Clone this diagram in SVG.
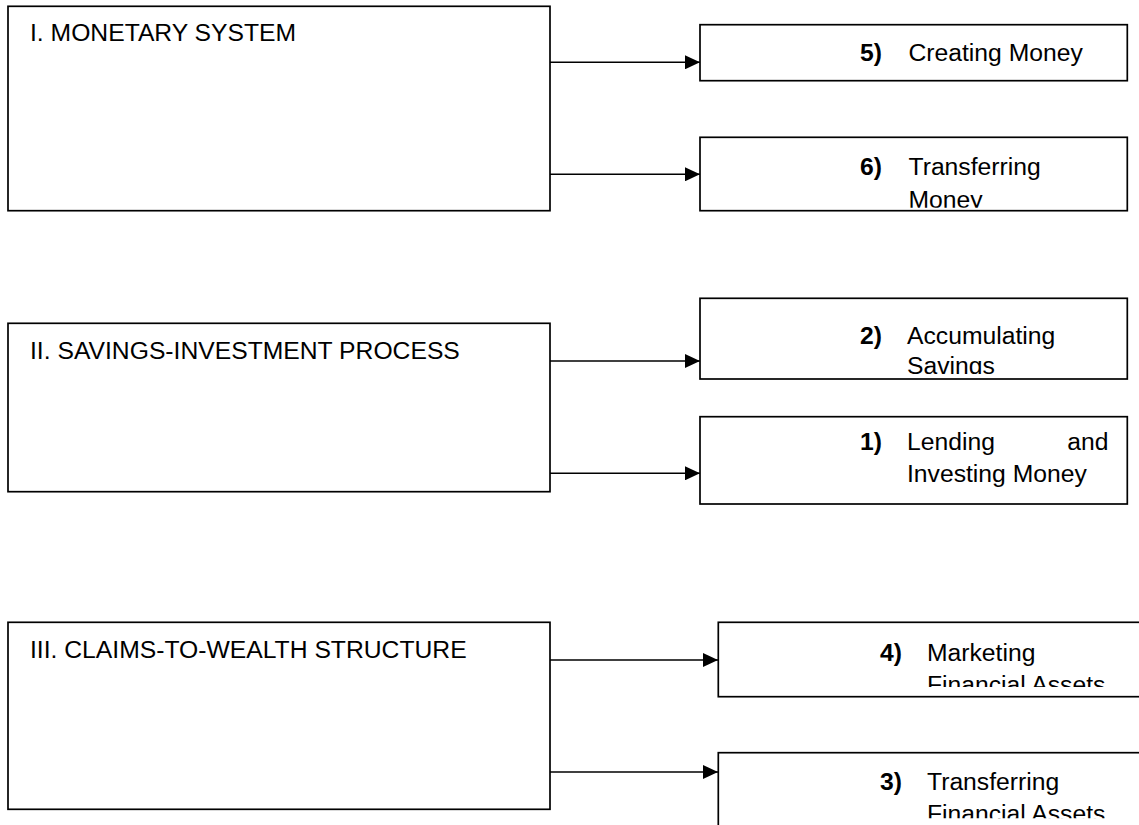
<svg xmlns="http://www.w3.org/2000/svg" width="1139" height="825" viewBox="0 0 1139 825">
<style>
.box{fill:#fff;stroke:#000;stroke-width:1.7}
.t{font-family:"Liberation Sans",Arial,sans-serif;font-size:24.7px;fill:#000}
.n{font-family:"Liberation Sans",Arial,sans-serif;font-size:24.7px;font-weight:bold;fill:#000}
.c{fill:none;stroke:#000;stroke-width:1.6}
</style>
<defs>
<marker id="ah" markerUnits="userSpaceOnUse" markerWidth="16" markerHeight="14" refX="15" refY="7" orient="auto">
<path d="M0,0 L15,7 L0,14 Z" fill="#000"/>
</marker>
<clipPath id="c6"><rect x="700" y="137" width="428" height="70.7"/></clipPath>
<clipPath id="c2"><rect x="700" y="298" width="428" height="76"/></clipPath>
<clipPath id="c4"><rect x="718" y="622" width="430" height="65"/></clipPath>
<clipPath id="c3"><rect x="718" y="753" width="430" height="65.3"/></clipPath>
</defs>
<rect width="1139" height="825" fill="#fff"/>
<g id="connectors">
<line class="c" x1="550" y1="62.3" x2="700" y2="62.3" marker-end="url(#ah)"/>
<line class="c" x1="550" y1="174.3" x2="700" y2="174.3" marker-end="url(#ah)"/>
<line class="c" x1="550" y1="361" x2="700" y2="361" marker-end="url(#ah)"/>
<line class="c" x1="550" y1="473.3" x2="700" y2="473.3" marker-end="url(#ah)"/>
<line class="c" x1="550" y1="660" x2="718" y2="660" marker-end="url(#ah)"/>
<line class="c" x1="550" y1="772" x2="718" y2="772" marker-end="url(#ah)"/>
</g>
<g id="monetary-system">
<rect class="box" x="8" y="6.3" width="542" height="204.4"/>
<text class="t" x="30" y="41">I. MONETARY SYSTEM</text>
</g>
<g id="creating-money">
<rect class="box" x="700" y="24.7" width="427.3" height="56"/>
<text class="n" x="860" y="60.5">5)</text>
<text class="t" x="908.5" y="60.5">Creating Money</text>
</g>
<g id="transferring-money">
<rect class="box" x="700" y="137.3" width="427.3" height="73.4"/>
<g clip-path="url(#c6)">
<text class="n" x="860" y="174.5">6)</text>
<text class="t" x="908.5" y="174.5">Transferring</text>
<text class="t" x="908.5" y="207.5">Money</text>
</g>
</g>
<g id="savings-investment">
<rect class="box" x="8" y="323.3" width="542" height="168.4"/>
<text class="t" x="30" y="359">II. SAVINGS-INVESTMENT PROCESS</text>
</g>
<g id="accumulating-savings">
<rect class="box" x="700" y="298.3" width="427.3" height="80.7"/>
<g clip-path="url(#c2)">
<text class="n" x="860" y="344">2)</text>
<text class="t" x="907" y="344">Accumulating</text>
<text class="t" x="907" y="373.5">Savings</text>
</g>
</g>
<g id="lending-investing">
<rect class="box" x="700" y="416.7" width="427.3" height="87.3"/>
<text class="n" x="860" y="450">1)</text>
<text class="t" x="907" y="450">Lending</text>
<text class="t" x="1108.5" y="450" text-anchor="end">and</text>
<text class="t" x="907" y="482">Investing Money</text>
</g>
<g id="claims-to-wealth">
<rect class="box" x="8" y="622.3" width="542" height="187"/>
<text class="t" x="30" y="658">III. CLAIMS-TO-WEALTH STRUCTURE</text>
</g>
<g id="marketing-assets">
<rect class="box" x="718.3" y="622.3" width="430" height="74.4"/>
<g clip-path="url(#c4)">
<text class="n" x="880" y="660.5">4)</text>
<text class="t" x="927" y="660.5">Marketing</text>
<text class="t" x="927" y="693">Financial Assets</text>
</g>
</g>
<g id="transferring-assets">
<rect class="box" x="718.3" y="752.7" width="430" height="90"/>
<g clip-path="url(#c3)">
<text class="n" x="880" y="790">3)</text>
<text class="t" x="927" y="790">Transferring</text>
<text class="t" x="927" y="822">Financial Assets</text>
</g>
</g>
</svg>
